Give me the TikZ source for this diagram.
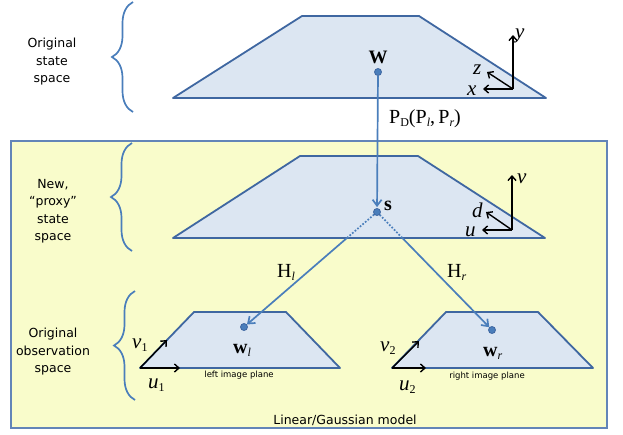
\documentclass[tikz,border=0pt]{standalone}
\usepackage{fontspec}
\setmainfont{DejaVu Sans}
\newfontfamily\tms{Liberation Serif}
\usetikzlibrary{arrows.meta,decorations.pathreplacing}
\definecolor{PlaneFill}{HTML}{DCE6F2}
\definecolor{PlaneEdge}{HTML}{3F67A1}
\definecolor{LinkBlue}{HTML}{4A7EBB}
\definecolor{ModelFill}{HTML}{F9FCCB}
\definecolor{ModelEdge}{HTML}{6385B8}
\newcommand{\lowsub}[1]{\raisebox{-3pt}{\fontsize{12}{12}\selectfont #1}}

\begin{document}
\begin{tikzpicture}[x=1pt,y=-1pt,
    plane/.style={fill=PlaneFill, draw=PlaneEdge, line width=1.8pt, line join=round},
    link/.style={draw=LinkBlue, line width=1.7pt},
    tip/.style={-{Straight Barb[length=6pt,width=9pt]}},
    axis/.style={black, line width=1.4pt, -{Straight Barb[length=4.5pt,width=8pt]}},
    dot/.style={circle, fill=LinkBlue, draw=PlaneEdge, line width=0.8pt, inner sep=0pt, minimum size=7pt},
    sym/.style={font={\tms\fontsize{20}{20}\selectfont}, inner sep=0pt, anchor=base west},
    brace/.style={draw=LinkBlue, line width=1.7pt, decorate, decoration={brace, amplitude=21pt}},
    caption/.style={font={\fontsize{12.5}{17.5}\selectfont}, align=center, inner sep=0pt},
    plane label/.style={font={\fontsize{8.5}{10}\selectfont}, inner sep=0pt}]

  \useasboundingbox (0,0) rectangle (623,434);

  % linear/gaussian model frame
  \draw[fill=ModelFill, draw=ModelEdge, line width=1.5pt] (11,141) rectangle (607,428);
  \node[font={\fontsize{12.5}{14}\selectfont}, inner sep=0pt] (model) at (345,420) {Linear/Gaussian model};

  % braces and captions
  \draw[brace] (133,112) -- (133,2);
  \node[caption] (orig) at (52,62) {Original\\state\\space};
  \draw[brace] (132,251) -- (132,143);
  \node[caption] (proxy) at (53,211) {New,\\“proxy”\\state\\space};
  \draw[brace] (135,400) -- (135,291);
  \node[caption] (obs) at (53,352) {Original\\observation\\space};

  % state planes
  \draw[plane] (173,98) -- (302,16) -- (419,16) -- (546,98) -- cycle;
  \draw[plane] (173,238) -- (300,156) -- (418,156) -- (545,238) -- cycle;
  \coordinate (mbl) at (173,238);
  \coordinate (mbr) at (545,238);

  % image planes
  \draw[plane] (140,368) -- (194,312) -- (286,312) -- (340,368) -- cycle;
  \draw[plane] (392,368) -- (446,312) -- (538,312) -- (593,368) -- cycle;
  \node[plane label] (lplane) at (239,375) {left image plane};
  \node[plane label] (rplane) at (487,376) {right image plane};

  % points
  \node[dot] (W) at (378,72) {};
  \node[dot] (s) at (377,212) {};
  \node[dot] (wl) at (244,327) {};
  \node[dot] (wr) at (492,330) {};
  \node[sym, anchor=center, font={\tms\bfseries\fontsize{19}{19}\selectfont}] (Wlab) at (378,57) {W};
  \node[sym, anchor=center, font={\tms\bfseries\fontsize{20}{20}\selectfont}] (slab) at (388,206) {s};
  \node[sym, font={\tms\fontsize{20}{20}\selectfont}] (wllab) at (233,353) {\textbf{w}\lowsub{\itshape l}};
  \node[sym, font={\tms\fontsize{20}{20}\selectfont}] (wrlab) at (483,356) {\textbf{w}\lowsub{\itshape r}};

  % mappings
  \draw[link, tip, shorten >=1pt] (W) -- (s);
  \node[sym] (PD) at (389,123) {P\lowsub{D}(P\lowsub{\itshape l},\,P\lowsub{\itshape r})};
  \coordinate (sl) at (intersection of s--wl and mbl--mbr);
  \coordinate (sr) at (intersection of s--wr and mbl--mbr);
  \draw[link, dash pattern=on 1.7pt off 1.7pt] (s) -- (sl);
  \draw[link, tip] (sl) -- (wl);
  \draw[link, dash pattern=on 1.7pt off 1.7pt] (s) -- (sr);
  \draw[link, tip] (sr) -- (wr);
  \node[sym] (Hl) at (277,277) {H\lowsub{\itshape l}};
  \node[sym] (Hr) at (447,277) {H\lowsub{\itshape r}};

  % world axes
  \coordinate (o1) at (513,89);
  \draw[axis] (o1) -- ++(0,-54);
  \draw[axis] (o1) -- ++(-26,-17);
  \draw[axis] (o1) -- ++(-30,0);
  \node[sym, font={\tms\itshape\fontsize{21}{21}\selectfont}] (ylab) at (515,38) {y};
  \node[sym, font={\tms\itshape\fontsize{21}{21}\selectfont}] (zlab) at (473,74) {z};
  \node[sym, font={\tms\itshape\fontsize{21}{21}\selectfont}] (xlab) at (467,95) {x};

  % proxy axes
  \coordinate (o2) at (512,230);
  \draw[axis] (o2) -- ++(0,-55);
  \draw[axis] (o2) -- ++(-26,-18);
  \draw[axis] (o2) -- ++(-30,0);
  \node[sym, font={\tms\itshape\fontsize{21}{21}\selectfont}] (vlab) at (517,183) {v};
  \node[sym, font={\tms\itshape\fontsize{21}{21}\selectfont}] (dlab) at (472,217) {d};
  \node[sym, font={\tms\itshape\fontsize{21}{21}\selectfont}] (ulab) at (465,236) {u};

  % image axes
  \coordinate (o3) at (140,368);
  \draw[axis] (o3) -- ++(27,-28);
  \draw[axis] (o3) -- ++(40,0);
  \node[sym, font={\tms\itshape\fontsize{21}{21}\selectfont}] (v1lab) at (132,348) {v\lowsub{\upshape 1}};
  \node[sym, font={\tms\itshape\fontsize{21}{21}\selectfont}] (u1lab) at (148,388) {u\lowsub{\upshape 1}};
  \coordinate (o4) at (392,368);
  \draw[axis] (o4) -- ++(27,-27);
  \draw[axis] (o4) -- ++(34,0);
  \node[sym, font={\tms\itshape\fontsize{21}{21}\selectfont}] (v2lab) at (380,351) {v\lowsub{\upshape 2}};
  \node[sym, font={\tms\itshape\fontsize{21}{21}\selectfont}] (u2lab) at (399,390) {u\lowsub{\upshape 2}};
\end{tikzpicture}
\end{document}
